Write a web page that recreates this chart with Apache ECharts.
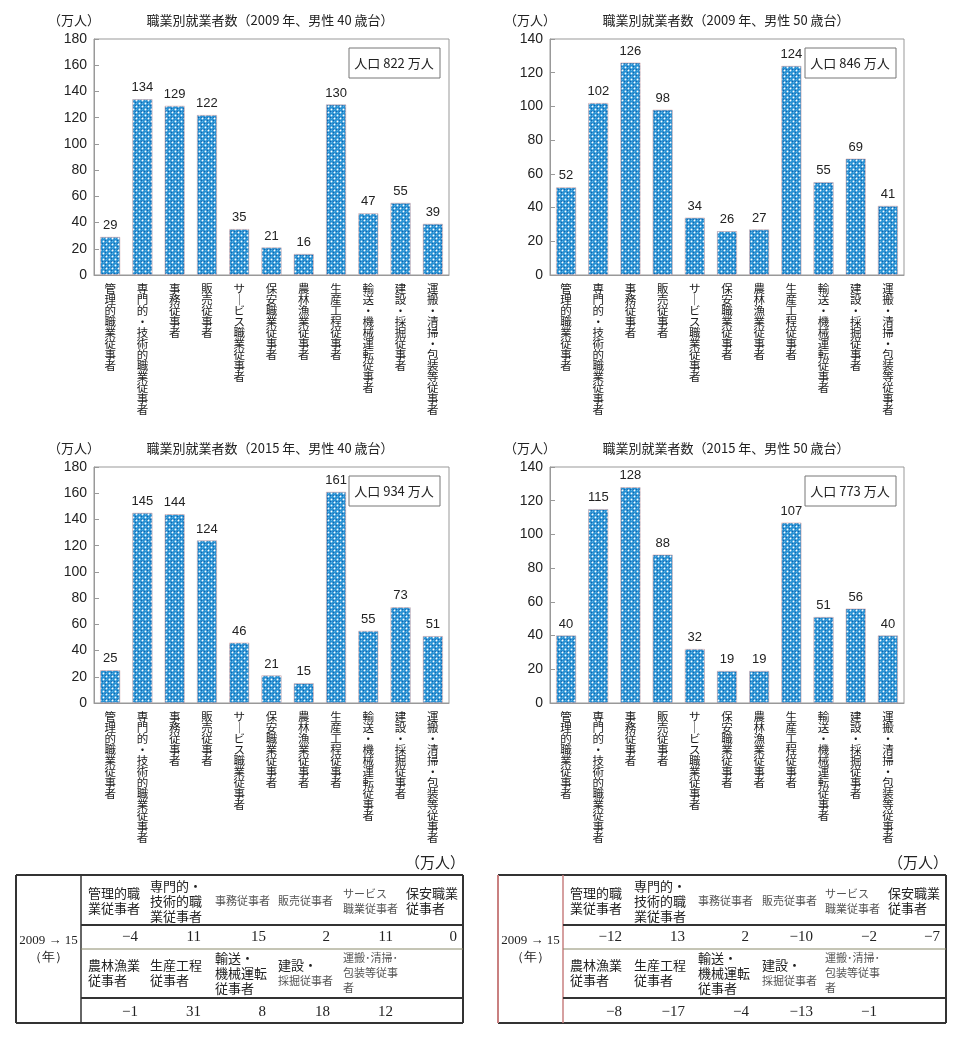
<!DOCTYPE html>
<html><head><meta charset="utf-8">
<script src="https://cdn.jsdelivr.net/npm/echarts@6/dist/echarts.min.js"></script>
<style>html,body{margin:0;padding:0;background:#fff}#c{width:963px;height:1039px}</style>
</head><body><div id="c"></div>
<script>
const categories = ['管理的職業従事者','専門的・技術的職業従事者','事務従事者','販売従事者','サービス職業従事者','保安職業従事者','農林漁業従事者','生産工程従事者','輸送・機械運転従事者','建設・採掘従事者','運搬・清掃・包装等従事者'];
const m40_2009 = [29,134,129,122,35,21,16,130,47,55,39];
const m50_2009 = [52,102,126,98,34,26,27,124,55,69,41];
const m40_2015 = [25,145,144,124,46,21,15,161,55,73,51];
const m50_2015 = [40,115,128,88,32,19,19,107,51,56,40];
const chartTitles = ['職業別就業者数（2009 年、男性 40 歳台）','職業別就業者数（2009 年、男性 50 歳台）','職業別就業者数（2015 年、男性 40 歳台）','職業別就業者数（2015 年、男性 50 歳台）'];
const populations = ['人口 822 万人','人口 846 万人','人口 934 万人','人口 773 万人'];
const yMax = [180,140,180,140];
const tableHeads1 = ['{a|管理的職}\n{a|業従事者}','{a|専門的・}\n{a|技術的職}\n{a|業従事者}','{b|事務従事者}','{b|販売従事者}','{b|サービス}\n{b|職業従事者}','{a|保安職業}\n{a|従事者}'];
const tableHeads2 = ['{a|農林漁業}\n{a|従事者}','{a|生産工程}\n{a|従事者}','{a|輸送・}\n{a|機械運転}\n{a|従事者}','{a|建設・}\n{b|採掘従事者}','{b|運搬･清掃･}\n{b|包装等従事}\n{b|者}'];
const diff40Row1 = ['−4','11','15','2','11','0'];
const diff40Row2 = ['−1','31','8','18','12'];
const diff50Row1 = ['−12','13','2','−10','−2','−7'];
const diff50Row2 = ['−8','−17','−4','−13','−1'];

// bar pattern
const pc = document.createElement('canvas');
pc.width = 6; pc.height = 6;
const px = pc.getContext('2d');
px.fillStyle = '#2790d2'; px.fillRect(0,0,6,6);
px.fillStyle = '#1462ad';
px.fillRect(3,0,1,1); px.fillRect(0,3,1,1); px.fillRect(3,3,1,1);
px.fillStyle = '#ffffff';
px.beginPath(); px.arc(1.5,1.5,0.95,0,Math.PI*2); px.fill();
px.beginPath(); px.arc(4.5,4.5,0.95,0,Math.PI*2); px.fill();
px.fillStyle = '#5fb6e6';
px.fillRect(4,1,1,1); px.fillRect(1,4,1,1);
const barFill = {image: pc, repeat: 'repeat'};

const datasets = [m40_2009, m50_2009, m40_2015, m50_2015];
const grids = [
  {left:94, top:39, width:355, height:236},
  {left:550, top:39, width:354, height:236},
  {left:94, top:467, width:355, height:236},
  {left:550, top:467, width:354, height:236}
];
const jp = '"Noto Sans CJK JP", sans-serif';
const serif = '"Liberation Serif", "DejaVu Serif", serif';

function vert(s){ return s.replace(/ー/g,'｜').split('').join('\n'); }

const option = {
  animation:false,
  backgroundColor:'#fff',
  title: [], grid: [], xAxis: [], yAxis: [], series: [], graphic: []
};

grids.forEach((g,i)=>{
  option.grid.push(Object.assign({show:true, borderColor:'#999', borderWidth:1, containLabel:false}, g));
  option.xAxis.push({
    type:'category', gridIndex:i, data:categories, boundaryGap:true,
    axisLine:{lineStyle:{color:'#999', width:1}},
    axisTick:{inside:true, length:6, lineStyle:{color:'#999'}},
    axisLabel:{interval:0, formatter:v=>vert(v), fontSize:11.5, lineHeight:11, color:'#1a1a1a', fontFamily:jp, margin:8, verticalAlign:'top'}
  });
  option.yAxis.push({
    type:'value', gridIndex:i, min:0, max:yMax[i], interval:20,
    axisLine:{show:true, lineStyle:{color:'#999'}},
    axisTick:{show:true, inside:true, length:5, lineStyle:{color:'#999'}},
    splitLine:{show:false},
    axisLabel:{fontSize:14, color:'#222', margin:7, fontFamily:'"Liberation Sans", sans-serif'}
  });
  option.series.push({
    type:'bar', xAxisIndex:i, yAxisIndex:i, data:datasets[i], barWidth:20,
    itemStyle:{color:barFill, borderColor:'#d8a8a8', borderWidth:0.6},
    label:{show:true, position:'top', distance:5, fontSize:13, color:'#222', fontFamily:'"Liberation Sans", sans-serif'}
  });
  option.graphic.push({type:'text', style:{text:chartTitles[i], x:g.left+176, y:g.top-19, fontSize:13, fontFamily:jp, fill:'#222', align:'center', verticalAlign:'middle'}});
  option.graphic.push({type:'text', style:{text:'（万人）', x:g.left-20, y:g.top-19, fontSize:13, fontFamily:jp, fill:'#222', align:'center', verticalAlign:'middle'}});
  option.graphic.push({type:'rect', shape:{x:g.left+255, y:g.top+9, width:91, height:30}, style:{fill:'#fff', stroke:'#777', lineWidth:1}});
  option.graphic.push({type:'text', style:{text:populations[i], x:g.left+300, y:g.top+24, fontSize:13, fontFamily:jp, fill:'#222', align:'center', verticalAlign:'middle'}});
});

const richStyles = {
  a:{fontSize:13, lineHeight:15, fontFamily:jp, fill:'#222', color:'#222'},
  b:{fontSize:11, lineHeight:15, fontFamily:jp, fill:'#555', color:'#555'}
};

function addTable(x0, x1, xin, heads1, vals1, heads2, vals2, hx, vx, sideColor){
  const G = option.graphic;
  const yT = 875, yB = 1023, yH1 = 925, yH2 = 949, yH3 = 998;
  G.push({type:'line', shape:{x1:x0, y1:yT, x2:x1, y2:yT}, style:{stroke:'#333', lineWidth:2}});
  G.push({type:'line', shape:{x1:x0, y1:yB, x2:x1, y2:yB}, style:{stroke:'#333', lineWidth:2}});
  G.push({type:'line', shape:{x1:x1, y1:yT, x2:x1, y2:yB}, style:{stroke:'#333', lineWidth:2}});
  G.push({type:'line', shape:{x1:x0, y1:yT, x2:x0, y2:yB}, style:{stroke:sideColor, lineWidth:2}});
  G.push({type:'line', shape:{x1:xin, y1:yT, x2:xin, y2:yB}, style:{stroke:sideColor, lineWidth:1.5}});
  G.push({type:'line', shape:{x1:xin, y1:yH1, x2:x1, y2:yH1}, style:{stroke:'#333', lineWidth:2}});
  G.push({type:'line', shape:{x1:xin, y1:yH2, x2:x1, y2:yH2}, style:{stroke:'#8a8a6a', lineWidth:1}});
  G.push({type:'line', shape:{x1:xin, y1:yH3, x2:x1, y2:yH3}, style:{stroke:'#333', lineWidth:2}});
  G.push({type:'text', style:{text:'2009 → 15\n（年）', x:(x0+xin)/2, y:949, fontSize:13, lineHeight:17, fontFamily:serif, fill:'#222', align:'center', verticalAlign:'middle'}});
  G.push({type:'text', style:{text:'（万人）', x:x1-28, y:862, fontSize:15, fontFamily:jp, fill:'#222', align:'center', verticalAlign:'middle'}});
  heads1.forEach((t,k)=>{
    G.push({type:'text', style:{text:t, rich:richStyles, x:hx[k], y:901, fontSize:13, lineHeight:15, fontFamily:jp, fill:'#222', align:'left', verticalAlign:'middle'}});
  });
  vals1.forEach((t,k)=>{
    G.push({type:'text', style:{text:t, x:vx[k], y:937, fontSize:15, fontFamily:serif, fill:'#222', align:'right', verticalAlign:'middle'}});
  });
  heads2.forEach((t,k)=>{
    G.push({type:'text', style:{text:t, rich:richStyles, x:hx[k], y:973, fontSize:13, lineHeight:15, fontFamily:jp, fill:'#222', align:'left', verticalAlign:'middle'}});
  });
  vals2.forEach((t,k)=>{
    G.push({type:'text', style:{text:t, x:vx[k], y:1012, fontSize:15, fontFamily:serif, fill:'#222', align:'right', verticalAlign:'middle'}});
  });
}
addTable(16, 463, 81, tableHeads1, diff40Row1, tableHeads2, diff40Row2,
  [88,150,215,278,343,406], [138,201,266,330,393,457], '#333');
addTable(498, 946, 563, tableHeads1, diff50Row1, tableHeads2, diff50Row2,
  [570,634,698,762,825,888], [622,685,749,813,877,940], '#c98080');

const chart = echarts.init(document.getElementById('c'), null, {renderer:'canvas'});
chart.setOption(option);
</script>
</body></html>
